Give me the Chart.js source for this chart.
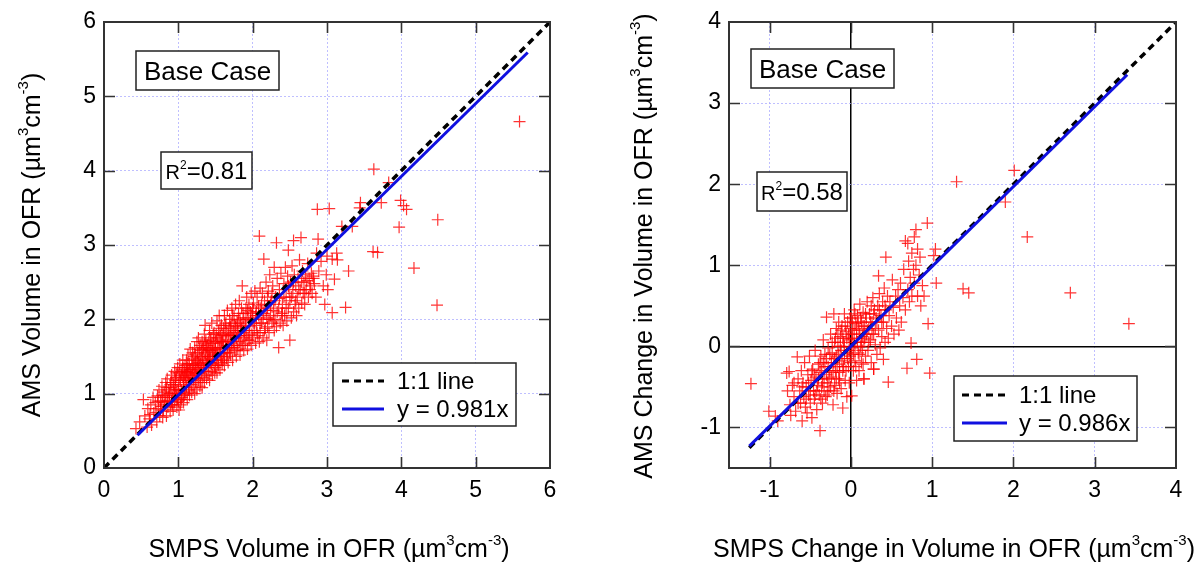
<!DOCTYPE html>
<html>
<head>
<meta charset="utf-8">
<script src="https://cdn.jsdelivr.net/npm/chart.js@4.4.1/dist/chart.umd.min.js"></script>
<style>
  body { margin: 0; background: #fff; }
  #wrap { position: relative; width: 1197px; height: 567px; }
  canvas { position: absolute; top: 0; }
</style>
</head>
<body>
<div id="wrap">
  <canvas id="volChart" width="600" height="567" style="left:0"></canvas>
  <canvas id="chgChart" width="597" height="567" style="left:600px"></canvas>
</div>
<script>
// ---- data ----
// left panel: SMPS volume (x) vs AMS volume (y), µm3 cm-3
const volPoints = [
  [0.43,0.53],[0.48,0.62],[0.53,0.92],[0.55,0.7],[0.58,0.55],[0.59,0.8],
  [0.61,0.66],[0.63,0.85],[0.64,0.58],[0.66,0.95],[0.67,0.74],[0.69,0.88],[0.62,0.72],
  [0.71,0.62],[0.72,0.97],[0.73,0.8],[0.74,1.05],[0.75,0.7],[0.76,0.9],[0.77,0.83],[0.78,1.1],[0.79,0.68],[0.79,0.95],
  [0.8,0.78],[0.81,1.02],[0.82,0.88],[0.83,1.15],[0.84,0.7],[0.85,0.95],[0.85,1.2],[0.86,0.82],[0.87,1.05],[0.88,0.9],[0.89,1.12],[0.89,0.76],[0.83,0.98],
  [0.9,0.85],[0.9,1.08],[0.91,1.25],[0.92,0.95],[0.93,0.78],[0.93,1.15],[0.94,1.02],[0.95,1.3],[0.95,0.88],[0.96,1.1],[0.97,0.98],[0.97,1.22],[0.98,0.82],[0.98,1.05],[0.99,1.35],[0.99,0.93],[0.96,1.18],
  [1.0,0.9],[1.0,1.12],[1.01,1.28],[1.02,1.0],[1.02,1.4],[1.03,0.85],[1.03,1.18],[1.04,1.05],[1.05,1.32],[1.05,0.95],[1.06,1.22],[1.06,1.45],[1.07,1.1],[1.07,0.88],[1.08,1.3],[1.08,1.02],[1.09,1.38],[1.09,1.15],[1.04,1.25],[1.01,0.78],[1.08,0.98],
  [1.1,1.0],[1.1,1.22],[1.11,1.45],[1.11,1.1],[1.12,0.92],[1.12,1.35],[1.13,1.18],[1.13,1.52],[1.14,1.05],[1.14,1.28],[1.15,1.4],[1.15,0.98],[1.16,1.2],[1.16,1.6],[1.17,1.12],[1.17,1.33],[1.18,1.48],[1.18,1.02],[1.19,1.25],[1.19,1.38],[1.15,1.15],[1.12,1.28],
  [1.2,1.08],[1.2,1.3],[1.21,1.5],[1.21,1.2],[1.22,1.62],[1.22,1.0],[1.23,1.38],[1.23,1.15],[1.24,1.45],[1.24,1.25],[1.25,1.7],[1.25,1.05],[1.26,1.35],[1.26,1.55],[1.27,1.18],[1.27,1.42],[1.28,1.28],[1.28,1.6],[1.29,1.1],[1.29,1.48],[1.24,1.32],[1.27,1.75],
  [1.3,1.15],[1.3,1.4],[1.31,1.58],[1.31,1.28],[1.32,1.7],[1.32,1.08],[1.33,1.48],[1.33,1.22],[1.34,1.62],[1.34,1.35],[1.35,1.8],[1.35,1.15],[1.36,1.45],[1.36,1.55],[1.37,1.3],[1.37,1.72],[1.38,1.4],[1.38,1.2],[1.39,1.65],[1.39,1.5],[1.33,1.38],[1.36,1.92],
  [1.4,1.25],[1.4,1.5],[1.41,1.7],[1.41,1.35],[1.42,1.85],[1.42,1.18],[1.43,1.58],[1.43,1.42],[1.44,1.75],[1.44,1.3],[1.45,1.62],[1.45,1.95],[1.46,1.45],[1.46,1.25],[1.47,1.68],[1.47,1.52],[1.48,1.38],[1.48,1.82],[1.49,1.6],[1.49,1.28],
  [1.5,1.35],[1.5,1.6],[1.51,1.8],[1.51,1.45],[1.52,1.98],[1.52,1.28],[1.53,1.68],[1.53,1.52],[1.54,1.85],[1.54,1.38],[1.55,1.72],[1.55,2.05],[1.56,1.55],[1.56,1.32],[1.57,1.78],[1.57,1.62],[1.58,1.45],[1.58,1.92],[1.59,1.7],[1.59,1.4],
  [1.6,1.45],[1.6,1.7],[1.61,1.88],[1.61,1.55],[1.62,2.05],[1.62,1.38],[1.63,1.78],[1.64,1.6],[1.64,1.95],[1.65,1.48],[1.65,1.82],[1.66,2.12],[1.66,1.65],[1.67,1.42],[1.68,1.88],[1.68,1.72],[1.69,1.55],[1.69,2.0],
  [1.7,1.52],[1.7,1.78],[1.71,1.95],[1.72,1.62],[1.72,2.15],[1.73,1.45],[1.74,1.85],[1.74,1.7],[1.75,2.05],[1.76,1.58],[1.76,1.92],[1.77,2.2],[1.78,1.75],[1.78,1.5],[1.79,1.98],[1.79,1.82],
  [1.8,1.6],[1.8,1.85],[1.81,2.08],[1.82,1.7],[1.82,2.25],[1.83,1.52],[1.84,1.95],[1.84,1.78],[1.85,2.15],[1.86,1.65],[1.86,2.45],[1.87,1.9],[1.88,2.02],[1.88,1.58],[1.89,1.82],
  [1.9,1.68],[1.9,1.92],[1.91,2.15],[1.92,1.78],[1.92,2.3],[1.93,1.6],[1.94,2.02],[1.95,1.85],[1.95,2.2],[1.96,1.72],[1.97,1.98],[1.98,2.35],[1.98,1.65],[1.99,2.08],
  [2.0,1.75],[2.0,2.0],[2.01,2.22],[2.02,1.85],[2.03,2.38],[2.04,1.68],[2.05,2.1],[2.05,1.92],[2.06,2.3],[2.07,1.78],[2.08,2.05],[2.09,3.12],[2.09,1.7],[2.1,2.42],
  [2.1,1.82],[2.11,2.15],[2.12,1.95],[2.13,2.35],[2.14,1.75],[2.15,2.08],[2.15,2.81],[2.16,2.25],[2.17,1.88],[2.18,2.5],[2.19,2.02],[2.19,1.72],
  [2.2,1.9],[2.2,2.15],[2.21,2.38],[2.22,1.82],[2.23,2.6],[2.24,2.05],[2.25,2.25],[2.26,1.95],[2.27,2.45],[2.28,2.12],[2.29,2.7],[2.29,1.85],
  [2.3,2.0],[2.31,2.3],[2.32,3.03],[2.32,1.9],[2.33,2.55],[2.35,1.62],[2.35,2.15],[2.36,2.4],[2.37,1.95],[2.38,2.62],[2.39,2.08],
  [2.4,2.2],[2.41,1.92],[2.42,2.48],[2.43,2.05],[2.44,2.7],[2.45,2.3],[2.46,1.98],[2.47,2.58],[2.48,2.93],[2.48,2.15],[2.5,1.72],[2.49,2.4],
  [2.5,2.25],[2.51,2.5],[2.52,2.02],[2.53,2.72],[2.54,2.35],[2.55,3.06],[2.55,2.1],[2.56,2.6],[2.57,2.2],[2.58,2.45],[2.59,2.05],
  [2.6,2.3],[2.61,2.55],[2.62,2.15],[2.63,2.8],[2.64,2.4],[2.65,3.1],[2.66,2.22],[2.67,2.65],[2.68,2.35],[2.69,2.5],
  [2.7,2.2],[2.71,2.6],[2.72,2.4],[2.74,2.75],[2.75,2.3],[2.76,2.55],[2.78,2.45],[2.79,2.62],
  [2.8,2.35],[2.81,2.58],[2.83,2.48],[2.86,2.89],[2.87,3.48],[2.88,3.08],[2.85,2.3],[2.89,2.65],
  [2.92,2.78],[2.95,2.45],[2.97,2.2],[2.99,2.6],[3.0,2.85],
  [3.01,2.4],[3.03,3.49],[3.07,2.09],[3.07,2.81],[3.1,2.54],[3.13,2.89],[3.14,2.8],[3.2,3.25],[3.25,2.16],[3.29,2.65],
  [3.34,3.25],[3.44,3.5],[3.45,3.57],[3.62,2.91],[3.63,4.02],[3.68,2.9],[3.73,3.57],[3.83,3.84],[3.97,3.24],[3.99,3.6],
  [4.03,3.53],[4.07,3.48],[4.17,2.69],[4.48,2.19],[4.49,3.34],[5.59,4.66],
  // denser core
  [0.88,1.0],[0.91,0.9],[0.94,1.12],[0.97,1.28],[1.0,1.05],[1.02,1.2],[1.04,0.92],[1.06,1.35],[1.07,1.18],[1.09,1.25],
  [1.11,1.3],[1.13,1.4],[1.14,1.12],[1.16,1.32],[1.18,1.22],[1.19,1.55],[1.21,1.4],[1.22,1.28],[1.23,1.52],[1.25,1.2],
  [1.26,1.45],[1.28,1.38],[1.29,1.65],[1.31,1.35],[1.32,1.5],[1.33,1.6],[1.35,1.3],[1.36,1.68],[1.37,1.52],[1.38,1.62],
  [1.4,1.45],[1.41,1.6],[1.42,1.5],[1.43,1.72],[1.45,1.4],[1.46,1.58],[1.47,1.8],[1.48,1.48],[1.5,1.7],[1.51,1.55],
  [1.52,1.75],[1.53,1.42],[1.55,1.62],[1.56,1.88],[1.57,1.5],[1.58,1.7],[1.6,1.8],[1.61,1.62],[1.62,1.5],[1.63,1.92],
  [1.64,1.7],[1.66,1.55],[1.67,1.8],[1.68,1.62],[1.7,1.9],[1.71,1.68],[1.72,1.8],[1.73,2.05],[1.75,1.62],[1.76,1.78],
  [1.77,1.9],[1.79,1.65],[1.8,1.95],[1.81,1.78],[1.83,2.0],[1.84,1.65],[1.85,1.88],[1.87,2.08],[1.88,1.75],[1.9,1.85],
  [1.91,2.0],[1.93,2.12],[1.94,1.72],[1.96,1.9],[1.97,2.1],[1.99,1.8],[2.0,2.15],[2.02,1.95],[2.04,2.05],[2.06,1.82],
  [2.08,2.18],[2.1,1.95],[2.12,2.2],[2.14,2.0],[2.16,1.85],[2.18,2.12],[2.2,2.3],[2.22,2.0],[2.24,2.2],[2.26,2.35],
  [2.28,1.98],[2.3,2.25],[2.33,2.1],[2.36,2.28],[2.4,2.05],[2.42,2.3],[2.45,2.15],[2.48,2.45],[2.52,2.3],[2.55,2.5],
  [2.58,2.25],[2.62,2.4],[2.66,2.5],[2.7,2.35],[2.73,2.52],[2.77,2.4],[2.82,2.55],[0.7,0.75],[0.73,0.9],[0.76,0.78],
  [0.78,0.98],[0.81,0.85],[0.84,1.08],[0.86,0.9],[0.9,1.15],[0.92,0.85],[0.95,1.0]
];
const volOneToOne = [[0, 0], [6, 6]];
const volFit = [[0.45, 0.44], [5.7, 5.59]];
const volTickValues = [0, 1, 2, 3, 4, 5, 6];
const volLineLabels = ['1:1 line', 'y = 0.981x'];
const volR2 = '=0.81';
const volXTitle = ['SMPS Volume in OFR (µm', '3', 'cm', '-3', ')'];
const volYTitle = ['AMS Volume in OFR (µm', '3', 'cm', '-3', ')'];

// right panel: change in volume, SMPS (x) vs AMS (y)
const chgPoints = [
  [-0.79,-0.33],[-0.76,-0.31],[-0.78,-0.55],[-0.75,-0.72],[-0.72,-0.48],[-0.7,-0.62],[-0.68,-0.8],[-0.66,-0.13],[-0.65,-0.4],[-0.63,-0.55],[-0.62,-0.7],[-0.6,-0.92],[-0.61,-0.3],[-0.74,-0.85],
  [-0.59,-0.45],[-0.58,-0.62],[-0.57,-0.2],[-0.56,-0.75],[-0.55,-0.5],[-0.54,-0.82],[-0.53,-0.35],[-0.52,-0.6],[-0.51,-0.12],[-0.5,-0.7],[-0.49,-0.42],[-0.48,-0.88],[-0.47,-0.28],[-0.46,-0.55],[-0.45,-0.65],[-0.44,-0.05],[-0.43,-0.38],[-0.42,-0.78],[-0.41,-0.48],[-0.4,-0.22],
  [-0.39,-0.6],[-0.38,-1.04],[-0.38,-0.32],[-0.37,-0.12],[-0.36,-0.5],[-0.35,-0.7],[-0.34,0.08],[-0.33,-0.4],[-0.32,-0.25],[-0.31,-0.62],[-0.3,0.36],[-0.3,-0.15],[-0.29,-0.45],[-0.28,-0.02],[-0.27,-0.55],[-0.26,-0.3],[-0.25,0.15],[-0.24,-0.38],[-0.23,-0.08],[-0.22,-0.72],[-0.21,0.4],[-0.21,-0.2],[-0.2,-0.48],[-0.2,0.05],
  [-0.19,-0.3],[-0.18,0.22],[-0.18,-0.12],[-0.17,-0.58],[-0.16,0.0],[-0.15,-0.4],[-0.15,0.3],[-0.14,-0.22],[-0.13,0.12],[-0.12,-0.52],[-0.12,-0.05],[-0.11,0.25],[-0.1,-0.76],[-0.1,-0.3],[-0.09,0.05],[-0.08,-0.15],[-0.08,0.4],[-0.07,-0.42],[-0.06,0.18],[-0.05,-0.08],[-0.05,-0.62],[-0.04,0.3],[-0.03,-0.25],[-0.02,0.08],[-0.02,-0.45],[-0.01,0.22],[-0.01,-0.12],
  [0.0,0.35],[0.01,-0.61],[0.01,-0.02],[0.02,0.15],[0.03,-0.3],[0.04,0.45],[0.04,0.05],[0.05,-0.18],[0.06,0.28],[0.07,-0.42],[0.07,0.1],[0.08,0.38],[0.09,-0.08],[0.1,0.2],[0.1,-0.3],[0.11,0.52],[0.12,0.0],[0.13,0.3],[0.13,-0.2],[0.14,0.12],[0.15,0.42],[0.16,-0.4],[0.16,0.05],[0.17,0.25],[0.18,-0.12],[0.19,0.35],[0.19,0.15],
  [0.2,0.55],[0.21,-0.05],[0.22,0.22],[0.23,0.4],[0.24,0.08],[0.25,-0.2],[0.26,0.3],[0.27,0.6],[0.28,-0.28],[0.28,0.15],[0.29,0.45],[0.3,0.02],[0.31,0.35],[0.32,-0.1],[0.33,0.5],[0.34,0.87],[0.34,0.2],[0.35,0.65],[0.36,-0.02],[0.37,0.38],[0.38,0.12],[0.39,0.55],
  [0.4,-0.16],[0.4,0.3],[0.41,0.72],[0.42,0.05],[0.43,1.1],[0.43,0.45],[0.44,0.22],[0.45,0.62],[0.46,-0.44],[0.46,0.1],[0.47,0.38],[0.48,0.55],[0.5,0.25],[0.51,0.82],[0.52,0.48],[0.53,0.15],[0.55,0.62],[0.56,0.35],[0.58,0.7],[0.59,0.2],
  [0.6,0.5],[0.61,0.78],[0.62,0.3],[0.64,0.6],[0.65,0.95],[0.67,1.3],[0.67,0.45],[0.69,-0.27],[0.7,1.27],[0.7,0.7],[0.71,1.05],[0.72,0.55],[0.73,0.85],[0.74,0.04],[0.75,1.15],[0.75,0.62],[0.77,0.95],[0.78,1.35],[0.78,0.78],[0.8,1.44],[0.8,1.0],[0.81,-0.16],[0.82,1.2],[0.82,0.62],[0.84,0.88],[0.85,1.1],[0.86,0.5],[0.88,0.75],[0.9,0.62],[0.94,1.52],
  [0.95,0.28],[0.97,-0.33],[1.02,1.12],[1.04,1.2],[1.05,0.78],[1.3,2.03],[1.38,0.71],[1.45,0.66],[1.9,1.78],[2.01,2.17],[2.17,1.35],[2.7,0.66],[3.42,0.28],
  [-1.23,-0.46],[-1.01,-0.8],[-0.93,-0.86],[-0.9,-0.92],[0.16,-0.4],[0.28,-0.28],
  // denser core
  [-0.45,-0.35],[-0.42,-0.55],[-0.4,-0.4],[-0.38,-0.2],[-0.36,-0.3],[-0.35,-0.45],[-0.33,-0.55],[-0.32,-0.1],[-0.3,-0.35],[-0.28,-0.25],
  [-0.27,-0.4],[-0.26,-0.1],[-0.25,-0.5],[-0.24,-0.2],[-0.23,0.05],[-0.22,-0.32],[-0.2,-0.15],[-0.19,0.1],[-0.18,-0.4],[-0.17,-0.25],
  [-0.16,0.15],[-0.15,-0.1],[-0.14,-0.32],[-0.13,0.0],[-0.12,0.2],[-0.11,-0.18],[-0.1,0.1],[-0.09,-0.25],[-0.08,0.0],[-0.07,0.25],
  [-0.06,-0.3],[-0.05,0.1],[-0.04,-0.15],[-0.03,0.15],[-0.02,-0.05],[-0.01,0.35],[0.0,-0.2],[0.01,0.1],[0.02,0.3],[0.03,-0.1],
  [0.04,0.2],[0.05,0.0],[0.06,-0.25],[0.07,0.22],[0.08,0.05],[0.09,0.3],[0.1,-0.1],[0.11,0.15],[0.12,0.35],[0.13,0.05],
  [0.14,-0.05],[0.15,0.25],[0.17,0.1],[0.18,0.4],[0.2,0.2],[0.22,0.05],[0.24,0.3],[0.26,0.15],[0.28,0.4],[0.3,0.22],
  [0.32,0.3],[0.35,0.45],[0.38,0.3],[0.42,0.5],[-0.5,-0.55],[-0.55,-0.65],[-0.48,-0.3],[-0.6,-0.5],[-0.65,-0.7],[-0.7,-0.45],
  [-0.52,-0.45],[-0.44,-0.6],[-0.37,-0.65],[-0.34,-0.2],[-0.29,-0.6],[-0.21,-0.55],[-0.14,-0.45],[0.05,0.4],[0.15,-0.22],[0.25,0.5]
];
const chgOneToOne = [[-1.25, -1.25], [4, 4]];
const chgFit = [[-1.25, -1.23], [3.4, 3.35]];
const chgTickValues = [-1, 0, 1, 2, 3, 4];
const chgLineLabels = ['1:1 line', 'y = 0.986x'];
const chgR2 = '=0.58';
const chgXTitle = ['SMPS Change in Volume in OFR (µm', '3', 'cm', '-3', ')'];
const chgYTitle = ['AMS Change in Volume in OFR (µm', '3', 'cm', '-3', ')'];

const caseLabel = 'Base Case';

// ---- styling ----
const FONT = '"Liberation Sans", Arial, Helvetica, sans-serif';
const FRAME = '#333';
const GRID = 'rgba(170,170,255,0.75)';
const RED = 'rgba(255,0,0,0.8)';
const BLUE = '#1010e0';
const TICK_LEN = 11;

Chart.defaults.font.family = FONT;
Chart.defaults.color = '#000';

function toXY(pairs) {
  return pairs.map(p => ({ x: p[0], y: p[1] }));
}

function drawParts(ctx, parts, x, y, align) {
  let w = 0;
  parts.forEach(p => {
    ctx.font = p.size + 'px ' + FONT;
    p.w = ctx.measureText(p.t).width;
    w += p.w;
  });
  let cx = align === 'center' ? x - w / 2 : x;
  ctx.textAlign = 'left';
  ctx.textBaseline = 'alphabetic';
  parts.forEach(p => {
    ctx.font = p.size + 'px ' + FONT;
    ctx.fillText(p.t, cx, y - (p.rise || 0));
    cx += p.w;
  });
}

// alternating normal / superscript pieces
function titleParts(pieces) {
  return pieces.map((t, i) => i % 2 === 0 ? { t: t, size: 25 } : { t: t, size: 15, rise: 12 });
}

function boxAt(ctx, b) {
  ctx.fillStyle = '#fff';
  ctx.fillRect(b.x, b.y, b.w, b.h);
  ctx.strokeStyle = '#222';
  ctx.lineWidth = 1.5;
  ctx.strokeRect(b.x, b.y, b.w, b.h);
  ctx.fillStyle = '#000';
}

function decorPlugin(cfg) {
  return {
    id: 'decor',
    afterDatasetsDraw(chart) {
      const { ctx, chartArea: a, scales } = chart;
      ctx.save();
      // ticks on all four sides, pointing inward
      ctx.strokeStyle = FRAME;
      ctx.lineWidth = 1.6;
      ctx.beginPath();
      scales.x.ticks.forEach(t => {
        const px = Math.round(scales.x.getPixelForValue(t.value)) + 0.5;
        if (px <= a.left + 2 || px >= a.right - 2) return;
        ctx.moveTo(px, a.bottom); ctx.lineTo(px, a.bottom - TICK_LEN);
        ctx.moveTo(px, a.top); ctx.lineTo(px, a.top + TICK_LEN);
      });
      scales.y.ticks.forEach(t => {
        const py = Math.round(scales.y.getPixelForValue(t.value)) + 0.5;
        if (py <= a.top + 2 || py >= a.bottom - 2) return;
        ctx.moveTo(a.left, py); ctx.lineTo(a.left + TICK_LEN, py);
        ctx.moveTo(a.right, py); ctx.lineTo(a.right - TICK_LEN, py);
      });
      ctx.stroke();
      ctx.lineWidth = 2;
      ctx.strokeRect(a.left, a.top, a.right - a.left, a.bottom - a.top);

      // "Base Case" label
      const bc = cfg.caseBox;
      boxAt(ctx, bc);
      ctx.font = '26px ' + FONT;
      ctx.textAlign = 'center';
      ctx.textBaseline = 'alphabetic';
      ctx.fillText(caseLabel, bc.x + bc.w / 2, bc.y + bc.h / 2 + 9.5);

      // R² label
      const rb = cfg.r2Box;
      boxAt(ctx, rb);
      drawParts(ctx, [
        { t: 'R', size: 20 },
        { t: '2', size: 12, rise: 10 },
        { t: cfg.r2, size: 24 }
      ], rb.x + rb.w / 2, rb.y + rb.h / 2 + 8.5, 'center');

      // legend for the two lines
      const lg = cfg.legend;
      boxAt(ctx, lg);
      lg.rows.forEach((di, i) => {
        const ds = chart.data.datasets[di];
        const ry = lg.y + lg.rowY[i];
        ctx.save();
        ctx.strokeStyle = ds.borderColor;
        ctx.lineWidth = 3;
        ctx.setLineDash(ds.borderDash || []);
        ctx.beginPath();
        ctx.moveTo(lg.x + lg.sx0, ry);
        ctx.lineTo(lg.x + lg.sx1, ry);
        ctx.stroke();
        ctx.restore();
        ctx.fillStyle = '#000';
        ctx.font = '24px ' + FONT;
        ctx.textAlign = 'left';
        ctx.textBaseline = 'middle';
        ctx.fillText(ds.label, lg.x + lg.tx, ry + 1);
      });

      // axis titles with superscripts
      ctx.fillStyle = '#000';
      drawParts(ctx, titleParts(cfg.xTitle), cfg.xTitlePos[0], cfg.xTitlePos[1], 'center');
      ctx.save();
      ctx.translate(cfg.yTitlePos[0], cfg.yTitlePos[1]);
      ctx.rotate(-Math.PI / 2);
      drawParts(ctx, titleParts(cfg.yTitle), 0, 0, 'center');
      ctx.restore();
      ctx.restore();
    }
  };
}

function isZero(c) {
  return c.tick && Math.abs(c.tick.value) < 1e-9;
}

function makeChart(id, opt) {
  const ctx = document.getElementById(id);
  return new Chart(ctx, {
    type: 'scatter',
    data: {
      datasets: [
        {
          type: 'line', label: opt.labels[1], data: toXY(opt.fit),
          borderColor: BLUE, borderWidth: 3, pointRadius: 0, fill: false
        },
        {
          type: 'line', label: opt.labels[0], data: toXY(opt.oneToOne),
          borderColor: '#000', borderWidth: 3.5, borderDash: [7, 5], pointRadius: 0, fill: false
        },
        {
          label: 'data', data: toXY(opt.points),
          pointStyle: 'cross', pointRadius: 6, borderColor: RED, borderWidth: 1.2, backgroundColor: RED
        }
      ]
    },
    options: {
      responsive: false,
      animation: false,
      events: [],
      layout: { padding: opt.padding },
      plugins: { legend: { display: false }, tooltip: { enabled: false } },
      scales: {
        x: {
          type: 'linear', min: opt.min, max: opt.max,
          afterBuildTicks: s => { s.ticks = opt.ticks.map(v => ({ value: v })); },
          afterFit: s => { s.height = opt.xAxisH; },
          ticks: { font: { size: 23 }, color: '#000', padding: 9, maxRotation: 0 },
          grid: {
            drawTicks: false,
            color: c => opt.zeroLines && isZero(c) ? '#000' : GRID,
            lineWidth: c => opt.zeroLines && isZero(c) ? 1.5 : 1
          },
          border: { display: false, dash: c => opt.zeroLines && isZero(c) ? [] : [2, 2] }
        },
        y: {
          type: 'linear', min: opt.min, max: opt.max,
          afterBuildTicks: s => { s.ticks = opt.ticks.map(v => ({ value: v })); },
          afterFit: s => { s.width = opt.yAxisW; },
          ticks: { font: { size: 23 }, color: '#000', padding: 8 },
          grid: {
            drawTicks: false,
            color: c => opt.zeroLines && isZero(c) ? '#000' : GRID,
            lineWidth: c => opt.zeroLines && isZero(c) ? 1.5 : 1
          },
          border: { display: false, dash: c => opt.zeroLines && isZero(c) ? [] : [2, 2] }
        }
      }
    },
    plugins: [decorPlugin(opt.decor)]
  });
}

makeChart('volChart', {
  points: volPoints, fit: volFit, oneToOne: volOneToOne, labels: volLineLabels,
  min: 0, max: 6, ticks: volTickValues, zeroLines: false,
  padding: { left: 0, top: 22, right: 50, bottom: 0 },
  yAxisW: 104, xAxisH: 99,
  decor: {
    caseBox: { x: 136, y: 51, w: 143, h: 39 },
    r2Box: { x: 161, y: 152, w: 91, h: 37 },
    r2: volR2,
    legend: { x: 333, y: 363, w: 183, h: 63, rows: [1, 0], rowY: [18, 46], sx0: 9, sx1: 51, tx: 64 },
    xTitle: volXTitle, xTitlePos: [329, 557],
    yTitle: volYTitle, yTitlePos: [40, 245]
  }
});

makeChart('chgChart', {
  points: chgPoints, fit: chgFit, oneToOne: chgOneToOne, labels: chgLineLabels,
  min: -1.5, max: 4, ticks: chgTickValues, zeroLines: true,
  padding: { left: 0, top: 22, right: 21, bottom: 0 },
  yAxisW: 129, xAxisH: 99,
  decor: {
    caseBox: { x: 151, y: 49, w: 143, h: 39 },
    r2Box: { x: 157, y: 172, w: 90, h: 39 },
    r2: chgR2,
    legend: { x: 354, y: 376, w: 183, h: 65, rows: [1, 0], rowY: [19, 47], sx0: 8, sx1: 53, tx: 65 },
    xTitle: chgXTitle, xTitlePos: [354, 557],
    yTitle: chgYTitle, yTitlePos: [52, 246]
  }
});
</script>
</body>
</html>
